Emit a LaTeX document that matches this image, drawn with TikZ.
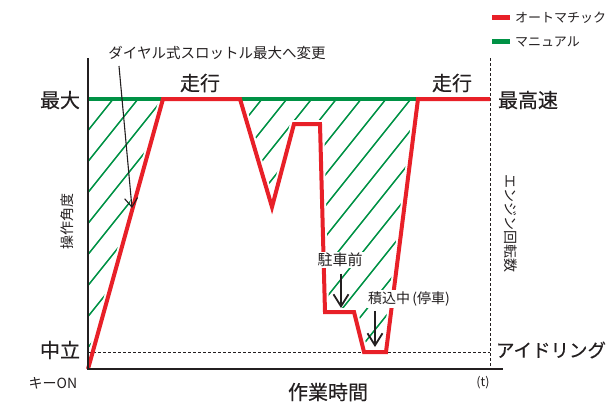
\documentclass[tikz,border=0pt]{standalone}
\usepackage{fontspec}
\setmainfont{Noto Sans CJK JP}
\newfontfamily\medfont[FakeBold=0.3]{Noto Sans CJK JP}
\usetikzlibrary{arrows.meta}
\definecolor{cred}{RGB}{232,32,40}
\definecolor{cgreen}{RGB}{0,146,69}
\definecolor{ink}{RGB}{35,31,32}
\tikzset{
  hatchline/.style={draw=cgreen,line width=1.5pt},
  axisline/.style={draw=ink,line width=2pt},
  dotline/.style={draw=ink,line width=1pt,dash pattern=on 2.5pt off 2.5pt},
  redpath/.style={draw=cred,line width=4pt,line join=miter},
  halo/.style={draw=white,line width=8pt,line join=miter},
  maxline/.style={draw=cgreen,line width=4pt},
  biglbl/.style={text=ink,inner sep=0pt,font=\medfont\fontsize{20}{22}\selectfont},
  midlbl/.style={text=ink,inner sep=0pt,font=\fontsize{14.5}{16}\selectfont},
  smalllbl/.style={text=ink,inner sep=0pt,font=\fontsize{13}{15}\selectfont},
  boxlbl/.style={text=ink,fill=white,inner sep=1.5pt,font=\fontsize{14}{16}\selectfont},
  thinarrow/.style={draw=ink,line width=1.1pt,-{Straight Barb[length=9pt,width=13pt,line width=1.1pt]}},
  thickarrow/.style={draw=ink,line width=2.5pt,-{Straight Barb[length=12pt,width=15pt,line width=1.8pt]}},
  legbar/.style={line width=5pt}
}
\begin{document}
\begin{tikzpicture}[x=1pt,y=-1pt]
\useasboundingbox (0,0) rectangle (611,405);

% key points
\coordinate (O) at (88,369);
\coordinate (Ytop) at (88,58);
\coordinate (Xend) at (503,369);
\coordinate (Mleft) at (88,99);
\coordinate (Mright) at (490,99);
\coordinate (Nleft) at (88,352);
\coordinate (Nright) at (490,352);
\coordinate (Rtop) at (490,58);
\coordinate (Rbot) at (490,369);
\coordinate (p1) at (163,99);
\coordinate (p2) at (240,99);
\coordinate (p3) at (272,207);
\coordinate (p4) at (294,124);
\coordinate (p5) at (320,124);
\coordinate (p6) at (325,312);
\coordinate (p7) at (354,312);
\coordinate (p8) at (364,352);
\coordinate (p9) at (386,352);
\coordinate (p10) at (418,99);

% hatching
\begin{scope}
\clip (Mleft) -- (p1) -- (O) -- cycle;
\foreach \k in {0,...,12} \draw[hatchline] ({113.2+24.8*\k},99) -- ++(-300,375);
\end{scope}
\begin{scope}
\clip (p2) -- (p3) -- (p4) -- (p5) -- (p6) -- (p7) -- (p8) -- (p9) -- (p10) -- cycle;
\foreach \k in {4,...,24} \draw[hatchline] ({113.2+24.8*\k},99) -- ++(-300,375);
\end{scope}

% halo, lines
\draw[halo] (O) -- (p1) -- (p2) -- (p3) -- (p4) -- (p5) -- (p6) -- (p7) -- (p8) -- (p9) -- (p10) -- (Mright);
\draw[dotline] (Nleft) -- (Nright);
\draw[dotline] (Rtop) -- (Rbot);
\draw[maxline] (Mleft) -- (Mright);
\draw[redpath] (O) -- (p1) -- (p2) -- (p3) -- (p4) -- (p5) -- (p6) -- (p7) -- (p8) -- (p9) -- (p10) -- (Mright);
\draw[axisline] (Ytop) -- (O) -- (Xend);

% labels
\node[biglbl] (lmax) at (60,100) {最大};
\node[biglbl] (lneu) at (60,350) {中立};
\node[biglbl] (run1) at (200,83) {走行};
\node[biglbl] (run2) at (452,83) {走行};
\node[biglbl] (ltop) at (528,100) {最高速};
\node[biglbl,font=\medfont\fontsize{18.5}{20}\selectfont] (lidle) at (551,350) {アイドリング};
\node[biglbl] (xlab) at (328,392) {作業時間};
\node[smalllbl,font=\fontsize{14}{16}\selectfont] (key) at (53,383) {キーON};
\node[smalllbl,font=\fontsize{12.5}{14}\selectfont] (tlab) at (483,383) {(t)};
\node[midlbl] (dial) at (217,53) {ダイヤル式スロットル最大へ変更};
\node[smalllbl,rotate=90,font=\fontsize{14}{16}\selectfont] (ylab) at (67,221) {操作角度};
\node[smalllbl,rotate=-90,font=\fontsize{14}{16}\selectfont] (rlab) at (511,223) {エンジン回転数};

% legend
\coordinate (lr1) at (492,17); \coordinate (lr2) at (510,17);
\coordinate (lg1) at (492,41); \coordinate (lg2) at (510,41);
\draw[legbar,cred] (lr1) -- (lr2);
\draw[legbar,cgreen] (lg1) -- (lg2);
\node[smalllbl,anchor=west] (legA) at (515,18) {オートマチック};
\node[smalllbl,anchor=west] (legM) at (515,42) {マニュアル};

% annotations
\node[boxlbl,font=\fontsize{15}{17}\selectfont] (park) at (340,260) {駐車前};
\node[boxlbl] (load) at (409,299) {積込中\,(停車)};
\coordinate (dialA) at (119,66);
\coordinate (dialB) at (132,208);
\draw[thinarrow] (dialA) -- (dialB);
\coordinate (parkB) at (341,308);
\draw[thickarrow] (park.south -| parkB) ++(0,5) -- (parkB);
\coordinate (loadB) at (375,347);
\draw[thickarrow] (load.south -| loadB) ++(0,3) -- (loadB);
\end{tikzpicture}
\end{document}
